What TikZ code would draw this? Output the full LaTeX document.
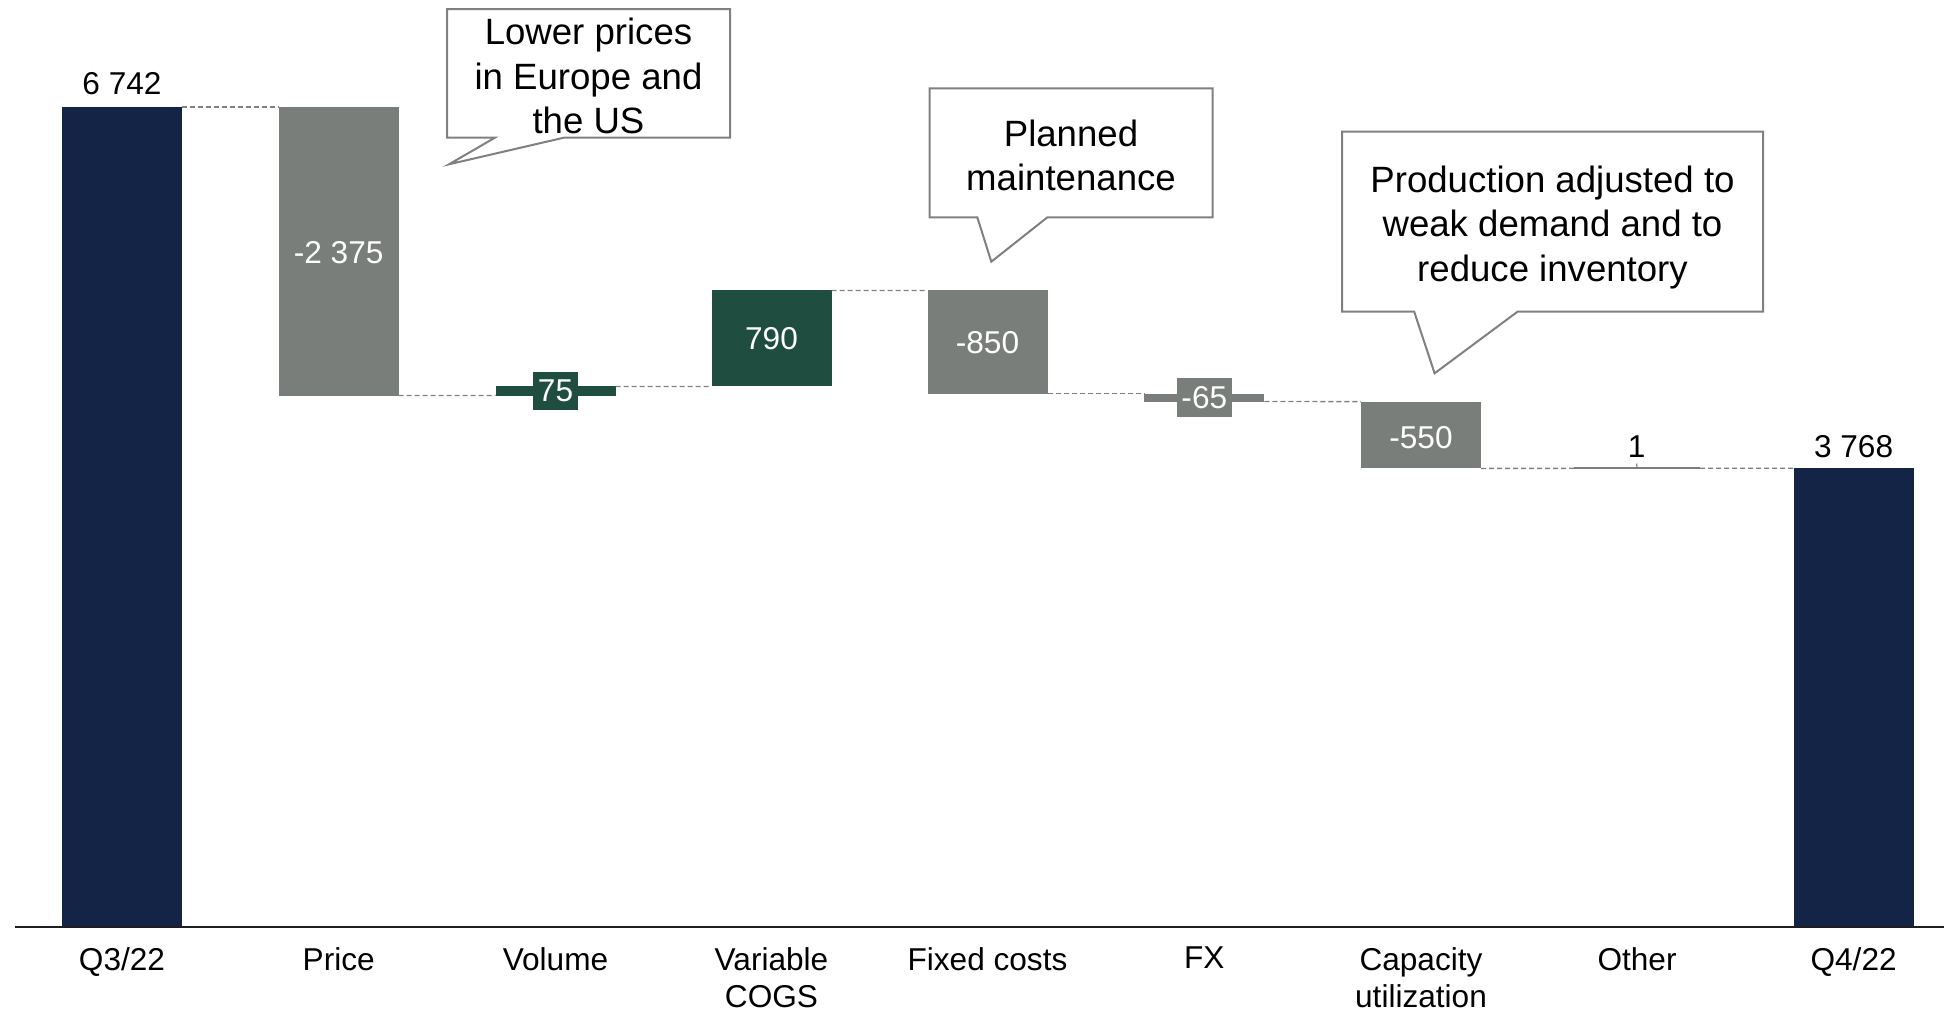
\documentclass[tikz,border=0pt]{standalone}
\usepackage{fontspec}
\setmainfont{Liberation Sans}
\definecolor{navy}{RGB}{19,36,70}
\definecolor{barGray}{RGB}{122,126,122}
\definecolor{barGreen}{RGB}{31,78,64}
\definecolor{lineGray}{RGB}{128,128,128}
\definecolor{axisCol}{RGB}{30,30,30}
\newcommand\lblfont{\fontsize{15.8}{18.8}\selectfont}
\newcommand\calfont{\fontsize{18.3}{22.2}\selectfont}
\begin{document}
\begin{tikzpicture}[x=0.5pt,y=-0.5pt,
  barbox/.style={draw=none, inner sep=0pt, outer sep=0pt, minimum width=60pt},
  conn/.style={draw=lineGray, line width=0.65pt, dash pattern=on 2.5pt off 1.5pt},
  inlbl/.style={text=white, font=\lblfont, inner sep=0pt},
  toplbl/.style={text=black, font=\lblfont, inner sep=0pt, anchor=base},
  catlbl/.style={font=\lblfont, align=center, anchor=north, inner sep=0pt},
  callout/.style={draw=lineGray, line width=1pt, fill=white, line join=miter},
  caltext/.style={font=\calfont, align=center, anchor=north, inner sep=0pt},
  tagbox/.style={text=white, font=\lblfont, inner xsep=2.47pt, inner ysep=0pt, minimum height=19.3pt, outer sep=0pt}
]
\useasboundingbox (0,0) rectangle (1944,1012);

% bars
\node[barbox, fill=navy,      minimum height=409.5pt]  (q3)    at (122,516.5) {};
\node[barbox, fill=barGray,   minimum height=144.25pt] (price) at (338.7,251.25) {};
\node[barbox, fill=barGreen,  minimum height=4.555pt]  (vol)   at (555.5,390.96) {};
\node[barbox, fill=barGreen,  minimum height=47.98pt]  (cogs)  at (771.5,338.42) {};
\node[barbox, fill=barGray,   minimum height=51.63pt]  (fixed) at (987.5,342.06) {};
\node[barbox, fill=barGray,   minimum height=3.95pt]   (fx)    at (1204.3,397.64) {};
\node[barbox, fill=barGray,   minimum height=33.40pt]  (cap)   at (1421,435.0) {};
\node[barbox, fill=barGray,   minimum height=1pt, minimum width=63pt] (other) at (1637,468.34) {};
\node[barbox, fill=navy,      minimum height=228.86pt] (q4)    at (1853.6,697.14) {};

% connectors
\draw[conn] (q3.north east) -- (price.north west);
\draw[conn] (price.south east) -- (vol.south west);
\draw[conn] (vol.north east) -- (cogs.south west);
\draw[conn] (cogs.north east) -- (fixed.north west);
\draw[conn] (fixed.south east) -- (fx.north west);
\draw[conn] (fx.south east) -- (cap.north west);
\draw[conn] (cap.south east) -- (other.west);
\draw[conn] (other.east) -- (q4.north west);

% axis
\coordinate (axL) at (15,926.8);
\coordinate (axR) at (1944,926.8);
\draw[axisCol, line width=1pt] (axL) -- (axR);

% value labels
\node[toplbl] (l1) at (122,94.3) {6 742};
\node[inlbl] (l2) at (338.7,252.5) {-2 375};
\node[tagbox, fill=barGreen] (l3) at (vol.center) {75};
\node[inlbl] (l4) at (771.5,339) {790};
\node[inlbl] (l5) at (987.5,343) {-850};
\node[tagbox, fill=barGray] (l6) at (fx.center) {-65};
\node[inlbl] (l7) at (1421,438) {-550};
\node[toplbl] (l8) at (1636.7,457.3) {1};
\node[toplbl] (l9) at (1853.6,457.3) {3 768};
\coordinate (tick) at (1636.7,463.5);
\draw[lineGray, line width=0.6pt] (other.center) -- (tick);

% category labels
\node[catlbl] (c1) at (122,946.7) {Q3/22};
\node[catlbl] (c2) at (338.7,946.7) {Price};
\node[catlbl] (c3) at (555.5,946.7) {Volume};
\node[catlbl] (c4) at (771.5,946.7) {Variable\\COGS};
\node[catlbl] (c5) at (987.5,946.7) {Fixed costs};
\node[catlbl] (c6) at (1204.3,946.7) {FX};
\node[catlbl] (c7) at (1421,946.7) {Capacity\\utilization};
\node[catlbl] (c8) at (1637,946.7) {Other};
\node[catlbl] (c9) at (1853.6,946.7) {Q4/22};

% callouts
\draw[callout] (447,9) -- (730,9) -- (730,137.7) -- (563.8,137.7) -- (449,164.3) -- (494.9,137.7) -- (447,137.7) -- cycle;
\node[caltext] (t1) at (588.5,17.9) {Lower prices\\in Europe and\\the US};

\draw[callout] (929.5,88.3) -- (1212.6,88.3) -- (1212.6,217.3) -- (1047.4,217.3) -- (991.3,261.7) -- (977.3,217.3) -- (929.5,217.3) -- cycle;
\node[caltext] (t2) at (1071,119.6) {Planned\\maintenance};

\draw[callout] (1342,131.7) -- (1763,131.7) -- (1763,311.7) -- (1517.5,311.7) -- (1434.6,373.3) -- (1414.2,311.7) -- (1342,311.7) -- cycle;
\node[caltext] (t3) at (1552.5,165.4) {Production adjusted to\\weak demand and to\\reduce inventory};
\end{tikzpicture}
\end{document}
